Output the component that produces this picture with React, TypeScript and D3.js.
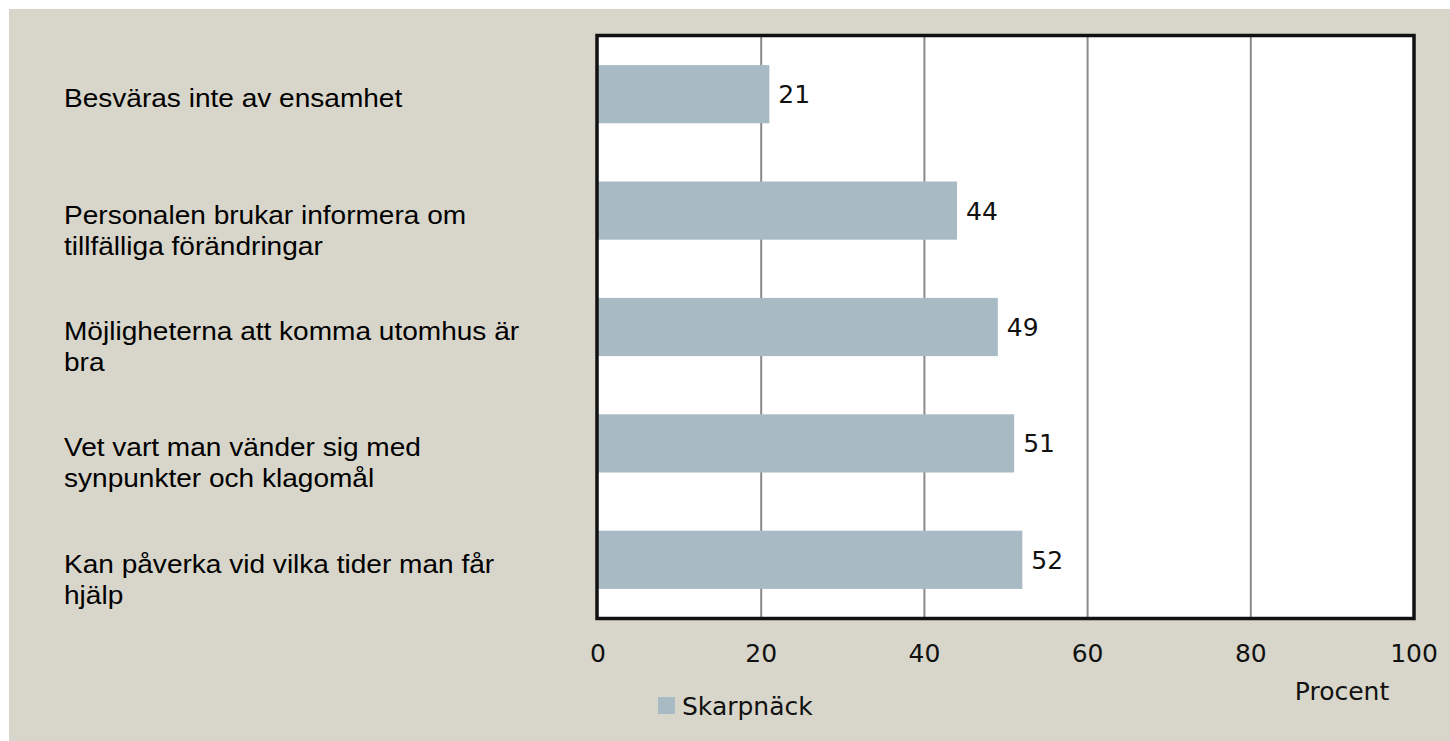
import React from "react";
import * as d3 from "d3";

const categoryLines: string[][] = [
  ["Besväras inte av ensamhet"],
  ["Personalen brukar informera om", "tillfälliga förändringar"],
  ["Möjligheterna att komma utomhus är", "bra"],
  ["Vet vart man vänder sig med", "synpunkter och klagomål"],
  ["Kan påverka vid vilka tider man får", "hjälp"],
];
const categories = categoryLines.map((l) => l.join(" "));
const values = [21, 44, 49, 51, 52];
const ticks = [0, 20, 40, 60, 80, 100];
const seriesName = "Skarpnäck";
const axisTitle = "Procent";

const BG = "#D8D6CA";
const BAR = "#A8BBC5";

export default function App() {
  const W = 1450;
  const H = 741;
  const x = d3.scaleLinear().domain([0, 100]).range([598, 1414]);
  const y = d3
    .scaleBand<string>()
    .domain(categories)
    .range([36, 618])
    .paddingInner(0.5)
    .paddingOuter(0.25);
  const step = y.step();
  const num = "'DejaVu Sans', Verdana, sans-serif";
  const lab = "'Liberation Sans', Arial, sans-serif";
  return (
    <svg
      width={W}
      height={H}
      style={{ position: "absolute", left: 0, top: 0, display: "block" }}
    >
      <rect x={0} y={0} width={W} height={H} fill="#fff" />
      <rect x={9} y={9} width={W - 9} height={H - 9} fill={BG} />
      <rect x={x(0)} y={36} width={x(100) - x(0)} height={582} fill="#fff" />
      {ticks.slice(1, -1).map((t) => (
        <line
          key={t}
          x1={x(t)}
          x2={x(t)}
          y1={36}
          y2={618}
          stroke="#8a8a8a"
          strokeWidth={2}
        />
      ))}
      {categories.map((c, i) => (
        <rect
          key={c}
          x={x(0)}
          y={y(c)!}
          width={x(values[i]) - x(0)}
          height={y.bandwidth()}
          fill={BAR}
        />
      ))}
      {categories.map((c, i) => (
        <text
          key={c}
          x={x(values[i]) + 9}
          y={y(c)! + y.bandwidth() / 2 + 9}
          fontFamily={num}
          fontSize={25}
          fill="#111"
        >
          {values[i]}
        </text>
      ))}
      <rect
        x={x(0) - 1}
        y={35.5}
        width={x(100) - x(0) + 1}
        height={583}
        fill="none"
        stroke="#111"
        strokeWidth={3.5}
      />
      {ticks.map((t) => (
        <text
          key={t}
          x={x(t)}
          y={662}
          textAnchor="middle"
          fontFamily={num}
          fontSize={25}
          fill="#111"
        >
          {t}
        </text>
      ))}
      <text
        x={1342}
        y={700}
        textAnchor="middle"
        fontFamily={num}
        fontSize={25}
        fill="#111"
      >
        {axisTitle}
      </text>
      <rect x={658} y={697} width={17} height={17} fill={BAR} />
      <text x={682} y={715} fontFamily={num} fontSize={25} fill="#111">
        {seriesName}
      </text>
      {categoryLines.map((lines, i) => {
        const cy = y(categories[i])! + y.bandwidth() / 2;
        return (
          <g key={i} transform={`translate(64, ${cy + 13}) scale(1.1, 1)`}>
            {lines.map((l, j) => (
              <text
                key={j}
                x={0}
                y={j * 31}
                fontFamily={lab}
                fontSize={25.5}
                fill="#000"
              >
                {l}
              </text>
            ))}
          </g>
        );
      })}
    </svg>
  );
}
